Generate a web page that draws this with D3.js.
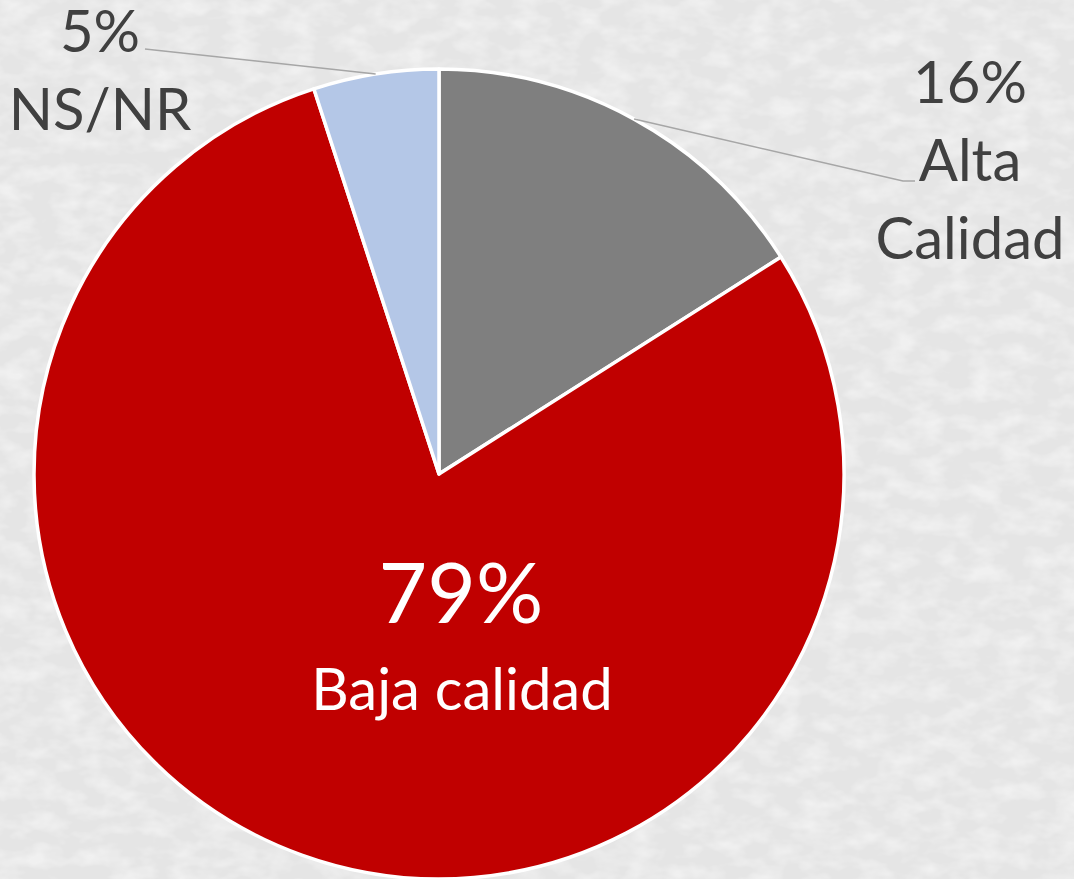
<!DOCTYPE html>
<html>
<head>
<meta charset="utf-8">
<script src="https://cdn.jsdelivr.net/npm/d3@7"></script>
<style>
  html, body { margin: 0; padding: 0; background: #e6e6e6; overflow: hidden; }
  svg { display: block; }
</style>
</head>
<body>
<div id="canvas"></div>
<script>
// chart data
const categories = ["Alta Calidad", "Baja calidad", "NS/NR"];
const values = [16, 79, 5];
const pctLabels = ["16%", "79%", "5%"];
const nameLines = [["Alta", "Calidad"], ["Baja calidad"], ["NS/NR"]];
const colors = ["#7f7f7f", "#c00000", "#b4c7e7"];

const width = 1074;
const height = 879;
const cx = 439, cy = 474, radius = 405;
const font = "Lato, 'Noto Sans', sans-serif";

const svg = d3.select("#canvas").append("svg")
  .attr("width", width)
  .attr("height", height);

// soft mottled background
const defs = svg.append("defs");
const f = defs.append("filter").attr("id", "mottle").attr("x", 0).attr("y", 0).attr("width", "100%").attr("height", "100%");
f.append("feTurbulence").attr("type", "fractalNoise").attr("baseFrequency", "0.035 0.06").attr("numOctaves", 3).attr("seed", 4).attr("result", "n");
f.append("feColorMatrix").attr("in", "n").attr("type", "matrix")
  .attr("values", "0 0 0 0 1  0 0 0 0 1  0 0 0 0 1  0 0 0 -2.2 1.35");
svg.append("rect").attr("width", width).attr("height", height).attr("fill", "#e5e5e5");
svg.append("rect").attr("width", width).attr("height", height).attr("filter", "url(#mottle)").attr("opacity", 0.45);

const data = categories.map((c, i) => ({ name: c, value: values[i], pct: pctLabels[i], lines: nameLines[i], color: colors[i] }));

const pie = d3.pie().value(d => d.value).sort(null);
const arcs = pie(data);
const arc = d3.arc().innerRadius(0).outerRadius(radius);

const g = svg.append("g").attr("transform", `translate(${cx},${cy})`);

g.selectAll("path.slice")
  .data(arcs)
  .enter()
  .append("path")
  .attr("class", "slice")
  .attr("d", arc)
  .attr("fill", d => d.data.color)
  .attr("stroke", "#ffffff")
  .attr("stroke-width", 3.5)
  .attr("stroke-linejoin", "round");

// point on the rim at the middle of a slice
const rimPoint = d => {
  const a = (d.startAngle + d.endAngle) / 2;
  return [radius * Math.sin(a), -radius * Math.cos(a)];
};

// outside labels: label anchor (page coords) and leader line bends
const outside = {
  "Alta Calidad": { x: 970, y: 103, lead: [[903, 181], [915, 181]] },
  "NS/NR": { x: 100, y: 52, lead: [[145, 49]] }
};

const labels = svg.append("g");
const lh = 78;

arcs.forEach(d => {
  const o = outside[d.data.name];
  if (o) {
    const p = rimPoint(d);
    const pts = [[cx + p[0], cy + p[1]]].concat(o.lead);
    labels.append("path")
      .attr("d", d3.line()(pts))
      .attr("fill", "none")
      .attr("stroke", "#a6a6a6")
      .attr("stroke-width", 1.5);
    const t = labels.append("text")
      .attr("text-anchor", "middle")
      .attr("fill", "#404040")
      .attr("font-family", font)
      .attr("font-size", 58);
    t.append("tspan").attr("x", o.x).attr("y", o.y).text(d.data.pct);
    d.data.lines.forEach((ln, i) => {
      t.append("tspan").attr("x", o.x).attr("y", o.y + lh * (i + 1)).text(ln);
    });
  } else {
    // inside label for the big slice
    const lx = 461;
    labels.append("text")
      .attr("x", lx).attr("y", 623)
      .attr("text-anchor", "middle")
      .attr("fill", "#ffffff")
      .attr("font-family", font)
      .attr("font-size", 84)
      .text(d.data.pct);
    labels.append("text")
      .attr("x", lx + 1).attr("y", 710)
      .attr("text-anchor", "middle")
      .attr("fill", "#ffffff")
      .attr("font-family", font)
      .attr("font-size", 58)
      .text(d.data.lines[0]);
  }
});
</script>
</body>
</html>
